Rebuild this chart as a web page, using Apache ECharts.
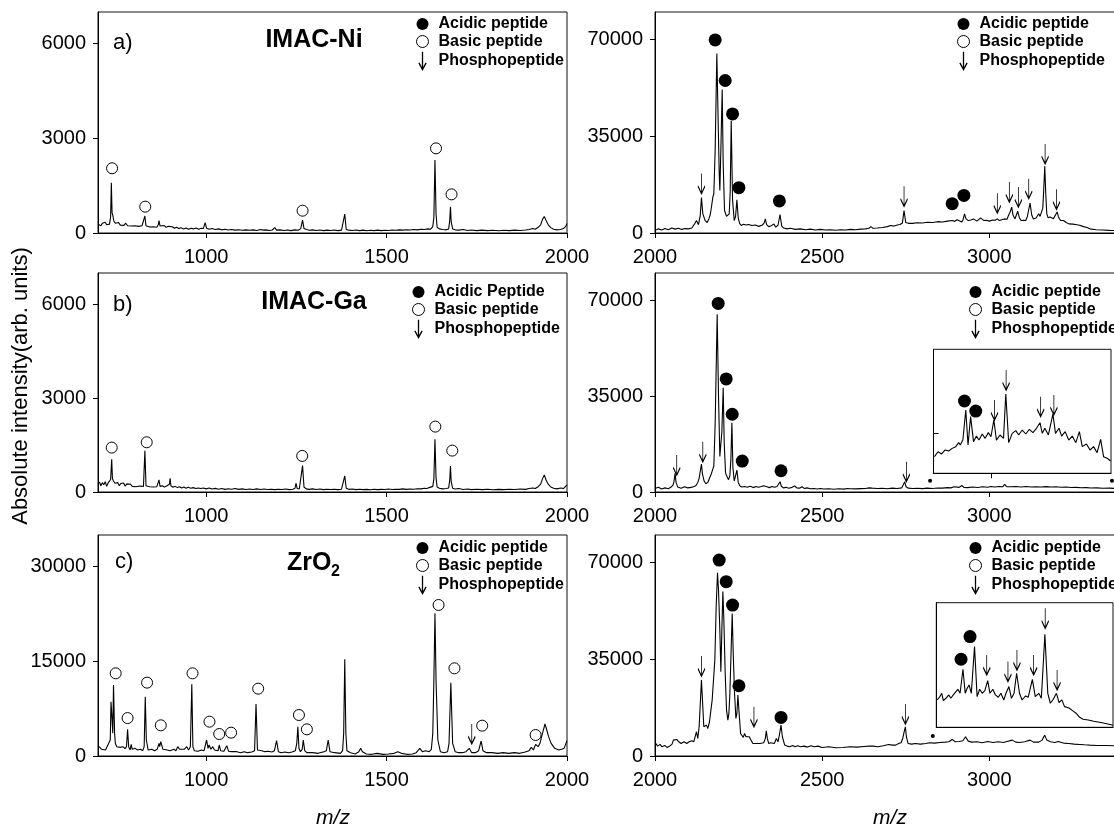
<!DOCTYPE html>
<html><head><meta charset="utf-8">
<script src="https://cdn.jsdelivr.net/npm/echarts@6/dist/echarts.min.js"></script>
<style>html,body{margin:0;padding:0;background:#fff}#c{width:1114px;height:828px}</style>
</head><body><div id="c"></div>
<script>
// ---------- tick labels ----------
const lowXTicks = [1000, 1500, 2000];
const highXTicks = [2000, 2500, 3000];
const lowYTicksAB = [0, 3000, 6000];
const lowYTicksC = [0, 15000, 30000];
const highYTicks = [0, 35000, 70000];
const insetXTicks = [3000];
const insetYTicks = [32];

// ---------- legend / title texts ----------
const legendNames = ['Acidic peptide', 'Basic peptide', 'Phosphopeptide'];
const legendNamesGaLow = ['Acidic Peptide', 'Basic peptide', 'Phosphopeptide'];
const panelTitles = ['IMAC-Ni', 'IMAC-Ga', 'ZrO'];
const panelLetters = ['a)', 'b)', 'c)'];
const yTitle = 'Absolute intensity(arb. units)';
const xTitle = 'm/z';

// ---------- spectra [m/z, intensity] ----------
const niLow = [[700,280],[704,330],[708,230],[712,310],[716,250],[720,340],[724,260],[728,300],[732,280],[735,520],[737,1590],[739,640],[741,560],[744,380],[748,310],[752,260],[757,330],[762,250],[767,300],[772,240],[777,310],[782,230],[787,290],[792,220],[797,280],[802,230],[807,270],[812,210],[817,260],[822,230],[827,250],[830,540],[833,230],[838,260],[843,190],[848,240],[853,200],[858,230],[863,180],[867,260],[869,390],[872,220],[877,200],[883,240],[889,180],[895,210],[900,160],[906,200],[912,150],[918,180],[924,140],[930,170],[937,130],[944,160],[951,120],[958,150],[965,130],[972,160],[979,120],[986,150],[992,140],[997,330],[1001,150],[1008,120],[1016,140],[1025,110],[1034,130],[1043,100],[1052,120],[1061,95],[1070,110],[1080,90],[1090,105],[1100,85],[1110,100],[1120,85],[1130,100],[1140,80],[1150,110],[1158,90],[1166,100],[1175,80],[1183,95],[1190,170],[1195,90],[1205,100],[1215,80],[1225,95],[1235,75],[1245,100],[1255,85],[1262,140],[1267,410],[1271,140],[1278,110],[1286,85],[1295,100],[1305,80],[1315,95],[1325,75],[1335,90],[1345,80],[1355,95],[1365,75],[1375,90],[1380,110],[1384,600],[1388,110],[1395,90],[1405,80],[1415,95],[1425,75],[1435,90],[1445,70],[1455,85],[1465,75],[1475,90],[1485,75],[1495,85],[1505,80],[1515,95],[1525,85],[1535,100],[1545,90],[1555,105],[1565,95],[1575,110],[1585,100],[1595,120],[1605,110],[1615,130],[1622,120],[1628,200],[1631,500],[1634,2310],[1637,600],[1640,180],[1646,130],[1655,110],[1665,100],[1672,130],[1675,400],[1677,830],[1679,350],[1683,130],[1690,100],[1700,90],[1712,110],[1725,80],[1735,95],[1750,75],[1765,90],[1780,75],[1795,85],[1810,70],[1825,85],[1840,75],[1855,90],[1870,80],[1885,95],[1895,110],[1905,140],[1912,120],[1920,180],[1927,260],[1932,430],[1937,520],[1942,400],[1948,260],[1955,170],[1963,120],[1972,100],[1982,110],[1990,140],[1996,200],[2000,300]];

const niHigh = [[2000,860],[2010,1500],[2020,1100],[2030,1600],[2040,1200],[2050,1800],[2060,1400],[2070,1700],[2080,1300],[2090,1600],[2100,1500],[2110,1800],[2118,3200],[2124,4500],[2130,3000],[2135,6000],[2139,12800],[2143,7000],[2150,4500],[2156,3800],[2161,5100],[2165,6500],[2169,9500],[2173,13000],[2176,14200],[2180,30000],[2185,65000],[2189,40000],[2192,22000],[2194,15400],[2197,30000],[2201,51900],[2204,25000],[2208,8150],[2214,6000],[2219,6500],[2222,6950],[2225,15000],[2228,40600],[2232,12000],[2237,4500],[2241,6000],[2245,12000],[2249,5500],[2253,3500],[2258,2700],[2265,3200],[2272,2900],[2280,3100],[2290,2700],[2300,2900],[2310,2400],[2320,2800],[2326,3500],[2330,5100],[2334,3000],[2340,2300],[2348,2600],[2356,3300],[2361,2100],[2368,2800],[2374,6700],[2379,2500],[2385,1800],[2395,1500],[2405,1700],[2420,1300],[2435,1500],[2450,1200],[2465,1400],[2480,1100],[2495,1300],[2510,1100],[2525,1200],[2540,1000],[2555,1200],[2570,1100],[2585,1300],[2600,1200],[2615,1400],[2630,1500],[2640,1700],[2646,2300],[2652,1700],[2665,1800],[2680,2000],[2695,2300],[2705,2700],[2715,2500],[2725,2900],[2733,3100],[2740,3600],[2745,8150],[2750,3800],[2758,3500],[2770,3500],[2785,3700],[2800,3600],[2815,3900],[2830,3800],[2845,4100],[2860,4000],[2875,4300],[2889,4500],[2897,4200],[2903,4800],[2908,5500],[2912,4300],[2918,4000],[2922,5000],[2926,6950],[2930,5200],[2937,4500],[2945,4700],[2953,5100],[2958,4400],[2963,4300],[2968,4900],[2974,5500],[2979,4800],[2984,4500],[2992,4600],[3000,4300],[3010,4700],[3018,4600],[3024,5100],[3030,4500],[3037,4800],[3045,5100],[3053,5000],[3058,6500],[3062,7500],[3067,9370],[3071,6500],[3077,5100],[3081,6500],[3085,7900],[3090,5500],[3095,4500],[3102,4600],[3109,4500],[3114,6000],[3118,8500],[3122,10800],[3127,6500],[3132,5100],[3140,5400],[3148,6950],[3152,6000],[3155,5300],[3160,9000],[3163,16000],[3166,24200],[3169,14000],[3172,7000],[3176,5500],[3182,5800],[3187,6300],[3192,5200],[3197,5800],[3203,7600],[3207,5800],[3213,4500],[3222,4500],[3230,3800],[3238,3300],[3250,3200],[3262,3000],[3270,2800],[3280,2400],[3292,2000],[3301,1500],[3320,1200],[3340,1100],[3360,950],[3380,900],[3400,850]];

const gaLow = [[700,250],[704,320],[708,200],[712,300],[716,230],[720,330],[724,180],[728,290],[732,240],[735,400],[738,1046],[740,420],[743,350],[747,280],[751,220],[755,300],[759,200],[763,270],[767,210],[771,290],[775,190],[780,260],[785,200],[790,250],[795,180],[800,240],[805,170],[810,230],[815,190],[820,210],[826,180],[830,1320],[833,200],[838,230],[843,170],[848,210],[853,160],[858,200],[863,170],[867,230],[869,386],[872,180],[878,200],[884,160],[890,190],[895,170],[898,250],[900,440],[902,200],[908,150],[914,180],[920,140],[926,170],[932,130],[938,160],[944,120],[950,150],[957,120],[964,140],[971,110],[978,130],[985,110],[992,130],[1000,100],[1008,125],[1016,95],[1025,115],[1034,90],[1043,110],[1052,85],[1061,105],[1070,90],[1080,110],[1090,85],[1100,100],[1110,80],[1120,95],[1130,80],[1140,100],[1150,80],[1160,95],[1170,80],[1180,90],[1190,75],[1200,90],[1210,80],[1220,95],[1230,75],[1240,90],[1246,120],[1249,280],[1252,110],[1258,100],[1262,150],[1267,844],[1271,160],[1277,100],[1285,85],[1295,100],[1305,80],[1315,95],[1325,75],[1335,90],[1345,80],[1355,90],[1365,75],[1375,90],[1380,120],[1384,514],[1388,120],[1395,85],[1405,95],[1415,75],[1425,90],[1435,75],[1445,85],[1455,70],[1465,90],[1475,75],[1485,85],[1495,80],[1505,95],[1515,80],[1525,90],[1535,85],[1545,100],[1555,85],[1565,95],[1575,90],[1585,105],[1595,100],[1605,120],[1612,110],[1618,140],[1622,120],[1628,180],[1631,420],[1634,1685],[1637,450],[1640,160],[1646,120],[1655,100],[1665,110],[1672,130],[1675,380],[1677,833],[1679,330],[1683,120],[1690,95],[1700,110],[1712,80],[1725,95],[1735,75],[1750,90],[1765,75],[1780,90],[1795,70],[1810,85],[1825,75],[1840,90],[1855,80],[1870,95],[1885,85],[1895,110],[1905,130],[1912,110],[1920,170],[1927,250],[1932,420],[1937,546],[1942,380],[1948,250],[1955,160],[1963,120],[1972,100],[1982,130],[1990,110],[1996,180],[2000,226]];

const gaHigh = [[2000,1300],[2010,1700],[2020,1100],[2030,1500],[2040,1200],[2048,1800],[2054,2500],[2057,4000],[2060,6800],[2063,3500],[2068,1800],[2078,1400],[2088,1900],[2098,1500],[2108,1700],[2115,1900],[2122,2300],[2128,3500],[2132,5000],[2136,8000],[2139,10200],[2142,6500],[2147,4000],[2152,3000],[2158,3500],[2163,5000],[2168,6500],[2172,8000],[2176,9500],[2180,25000],[2186,64900],[2190,35000],[2194,13000],[2196,12900],[2200,22000],[2204,38100],[2207,18000],[2211,7000],[2216,5500],[2220,4500],[2224,6000],[2227,12000],[2230,25300],[2233,9000],[2237,4000],[2241,4500],[2245,8000],[2249,3500],[2254,2200],[2260,1800],[2268,2000],[2276,1700],[2285,2100],[2294,1600],[2302,2000],[2310,1700],[2318,2000],[2325,2300],[2330,2900],[2335,1900],[2342,1600],[2350,2000],[2358,1700],[2365,2000],[2370,2500],[2374,3750],[2378,2100],[2384,1500],[2392,1700],[2400,1400],[2410,1700],[2418,2200],[2424,1500],[2432,1400],[2440,1900],[2446,1300],[2455,1500],[2465,1200],[2475,1300],[2485,1100],[2495,1300],[2505,1100],[2520,1200],[2535,1000],[2550,1200],[2565,1050],[2575,1300],[2580,1700],[2585,1200],[2600,1150],[2615,1250],[2630,1300],[2640,1500],[2645,2000],[2650,1400],[2665,1300],[2680,1350],[2695,1200],[2710,1400],[2725,1300],[2738,1500],[2743,2200],[2747,3750],[2751,1900],[2758,1400],[2770,1300],[2785,1350],[2800,1250],[2815,1400],[2830,1300],[2845,1450],[2860,1400],[2875,1600],[2885,1500],[2895,1900],[2900,1500],[2910,1700],[2918,2400],[2924,1700],[2935,1600],[2950,1800],[2965,1650],[2980,1900],[2995,1750],[3005,2000],[3015,1800],[3030,2000],[3040,1900],[3046,2800],[3052,1950],[3065,1900],[3080,2000],[3095,1850],[3110,2000],[3125,1800],[3140,1900],[3155,1800],[3170,1950],[3185,1800],[3200,1900],[3215,1750],[3230,1800],[3245,1650],[3260,1700],[3275,1550],[3290,1600],[3305,1450],[3320,1500],[3340,1350],[3360,1400],[3380,1300],[3400,1250]];

const zrLow = [[703,1478],[710,1060],[715,1214],[721,950],[726,1580],[731,1370],[734,2530],[736,8606],[738,6758],[741,3590],[743,11246],[746,3590],[748,2006],[752,1478],[757,1742],[763,1370],[769,1478],[775,1160],[779,1478],[782,4224],[785,1478],[789,950],[792,1848],[795,1060],[803,1214],[810,950],[818,1060],[824,844],[828,1478],[831,9398],[834,2534],[839,950],[849,1060],[857,844],[864,1060],[869,2006],[871,1478],[874,2270],[880,1060],[885,844],[892,950],[900,844],[910,1060],[916,844],[921,1478],[926,1060],[931,844],[939,1060],[946,1478],[951,950],[956,1478],[960,11352],[963,1478],[967,844],[977,740],[987,950],[994,844],[1001,2534],[1005,1214],[1008,1742],[1013,1060],[1018,1478],[1023,950],[1028,1214],[1033,844],[1036,1742],[1040,844],[1049,740],[1057,1636],[1062,740],[1069,686],[1085,686],[1095,528],[1105,686],[1115,528],[1126,634],[1134,844],[1138,8236],[1142,950],[1146,686],[1154,844],[1159,1160],[1163,686],[1172,740],[1182,634],[1189,844],[1195,2430],[1200,686],[1208,528],[1218,634],[1228,528],[1238,634],[1247,844],[1251,2006],[1254,4646],[1257,1214],[1261,686],[1266,1060],[1269,2534],[1273,844],[1279,528],[1295,528],[1310,422],[1326,686],[1333,844],[1338,2534],[1343,686],[1356,528],[1372,422],[1378,844],[1381,3590],[1384,15312],[1387,3590],[1390,844],[1400,528],[1413,316],[1423,686],[1428,1214],[1433,686],[1444,316],[1459,264],[1474,422],[1490,264],[1505,316],[1521,422],[1531,686],[1541,422],[1556,264],[1572,316],[1582,528],[1592,1214],[1599,686],[1608,844],[1618,686],[1624,1060],[1628,3590],[1631,12000],[1634,22600],[1637,12000],[1642,2534],[1649,686],[1659,528],[1669,686],[1673,2006],[1678,11616],[1683,2006],[1690,686],[1700,528],[1710,528],[1720,686],[1729,1214],[1736,528],[1746,528],[1755,844],[1762,2376],[1767,844],[1777,528],[1792,528],[1808,422],[1823,528],[1838,422],[1854,528],[1869,422],[1884,634],[1895,844],[1901,1370],[1907,950],[1913,1848],[1920,1478],[1925,2006],[1932,3590],[1939,5069],[1944,4118],[1949,3062],[1956,2006],[1966,1214],[1977,950],[1985,1060],[1992,1214],[1997,2006],[2000,2430]];

const zrHigh = [[2002,4550],[2008,3580],[2015,4190],[2021,3340],[2029,3820],[2036,3100],[2044,3580],[2051,4300],[2055,5750],[2060,6360],[2065,6000],[2071,5150],[2078,4550],[2087,5150],[2095,4550],[2102,5150],[2110,5500],[2116,5150],[2120,6960],[2124,8780],[2128,6360],[2132,10580],[2136,20240],[2139,27480],[2143,17800],[2146,10580],[2150,9980],[2154,11190],[2158,9980],[2163,12400],[2166,15410],[2171,20240],[2175,27480],[2179,34700],[2183,54030],[2187,66350],[2190,60070],[2194,45600],[2197,30500],[2200,45600],[2203,59500],[2206,49200],[2210,29900],[2214,16620],[2218,13000],[2221,15410],[2224,22650],[2228,39550],[2231,51620],[2234,37140],[2238,22650],[2242,13600],[2245,15410],[2248,22050],[2251,16620],[2256,8170],[2260,7570],[2264,6720],[2268,8170],[2272,6960],[2277,6360],[2282,6960],[2287,5750],[2293,4550],[2298,5150],[2303,4550],[2308,3940],[2314,4550],[2319,5150],[2325,4790],[2330,6360],[2333,9130],[2336,6360],[2340,4550],[2346,4790],[2351,5150],[2357,4550],[2363,6360],[2368,5150],[2372,7560],[2377,11190],[2381,6960],[2388,3940],[2395,3580],[2403,3340],[2412,3820],[2419,3340],[2427,3700],[2435,3340],[2446,3580],[2456,3220],[2467,3700],[2477,3340],[2488,3580],[2499,3100],[2520,3340],[2541,2980],[2562,3100],[2583,3340],[2604,3220],[2625,3460],[2641,3580],[2646,4190],[2652,3580],[2667,3340],[2683,3700],[2699,4190],[2704,4790],[2710,3940],[2720,3940],[2729,4550],[2736,4790],[2741,6360],[2746,9130],[2749,10580],[2752,6960],[2757,4550],[2768,4300],[2778,4550],[2794,4300],[2810,4550],[2821,4790],[2837,4670],[2852,4910],[2868,5030],[2879,5150],[2889,6000],[2898,5150],[2910,5270],[2921,5500],[2929,6960],[2937,5390],[2947,5030],[2963,5150],[2979,4790],[2995,5270],[3011,4910],[3027,5150],[3042,4910],[3053,5270],[3069,5750],[3079,5030],[3090,4910],[3106,5150],[3122,5750],[3132,5030],[3148,5030],[3158,5750],[3166,7560],[3172,5750],[3183,5150],[3196,4910],[3206,5270],[3222,4670],[3238,4550],[3254,4300],[3270,4190],[3285,4060],[3301,3940],[3322,3820],[3349,3820],[3373,3700],[3400,3650]];

// insets (zoomed region, relative intensity)
const gaInset = [[2823,13.4],[2834,17.4],[2845,15.6],[2856,18.8],[2867,18],[2878,20.1],[2889,21.5],[2898,24.7],[2903,22.8],[2911,26.8],[2920,51],[2927,22.8],[2935,45.7],[2944,25.5],[2953,30],[2961,26.8],[2971,31.7],[2980,28.2],[2990,32.8],[2998,29.5],[3007,43],[3015,26.8],[3026,30.9],[3037,28.2],[3044,63.9],[3053,24.7],[3064,32.2],[3075,34.4],[3084,30.9],[3095,34.9],[3106,31.7],[3117,35.5],[3128,32.8],[3139,36.3],[3150,40.8],[3157,32.2],[3165,36.3],[3176,30.9],[3190,47.8],[3198,32.2],[3209,36.3],[3217,30],[3228,33.6],[3239,26.8],[3250,30],[3261,24.7],[3272,33.6],[3281,21.5],[3294,23.6],[3305,18.8],[3316,21.5],[3327,16.6],[3338,27.4],[3347,13.4],[3358,12.1],[3369,9.9]];

const zrInset = [[2823,21.9],[2831,24.6],[2837,27.3],[2842,21.4],[2850,23.3],[2859,26],[2865,23.3],[2873,26],[2881,28.6],[2887,30.5],[2894,27.3],[2903,46.6],[2910,27.3],[2916,31.3],[2922,34],[2929,27.3],[2939,64.8],[2947,24.6],[2955,30.5],[2963,27.3],[2971,29.4],[2980,37.5],[2987,27.3],[2996,30.5],[3004,26],[3013,24.1],[3021,27.3],[3030,21.9],[3037,27.3],[3046,32.7],[3054,23.3],[3062,27.3],[3070,43.4],[3079,27.3],[3087,21.9],[3098,25.2],[3106,24.1],[3119,38.5],[3128,24.6],[3139,27.3],[3147,23.3],[3158,74.6],[3167,27.3],[3175,19.3],[3184,22.5],[3194,27.3],[3202,19.8],[3211,22],[3219,16.6],[3233,15.5],[3244,13.4],[3255,11.3],[3266,8],[3277,6.4],[3293,5.9],[3310,4.8],[3332,3.8],[3354,2.7],[3370,1.6]];

// ---------- peak markers [m/z, marker height] ----------
const niLowBasic = [[739,2050],[831,834],[1267,707],[1637,2681],[1680,1224]];
const niHighAcidic = [[2180,69900],[2210,55200],[2232,43100],[2251,16400],[2372,11600],[2889,10600],[2924,13600]];
const niHighPhospho = [[2139,17900],[2745,13300],[3024,10800],[3060,14800],[3087,13000],[3118,16050],[3167,28600],[3201,12200]];
const gaLowBasic = [[738,1419],[835,1589],[1266,1153],[1635,2090],[1682,1323]];
const gaHighAcidic = [[2189,68900],[2213,41300],[2231,28400],[2261,11300],[2377,7770]];
const gaHighPhospho = [[2065,9850],[2143,14700],[2752,7400]];
const gaHighRange = [[2823,4130],[3367,4130]];
const gaInsetAcidic = [[2916,58.3],[2951,50.2]];
const gaInsetPhospho = [[3009,51],[3045,75.2],[3152,53.7],[3193,55.1]];
const zrLowBasic = [[749,13094],[782,6008],[836,11616],[874,4858],[962,13094],[1009,5438],[1036,3484],[1069,3695],[1144,10665],[1257,6494],[1279,4224],[1644,23918],[1688,13886],[1765,4805],[1913,3326]];
const zrLowPhospho = [[1736,3484]];
const zrHighAcidic = [[2192,70930],[2213,63090],[2232,54640],[2251,25430],[2377,13960]];
const zrHighPhospho = [[2139,32550],[2296,14200],[2749,15170]];
const zrHighRange = [[2831,7200]];
const zrInsetAcidic = [[2897,54.6],[2925,72.8]];
const zrInsetPhospho = [[2977,50],[3043,44.7],[3071,54],[3123,50],[3159,87.5],[3196,38]];

// ---------- build ----------
const FONT = "'Liberation Sans', Arial, Helvetica, sans-serif";
const ARROW = 'path://M5,0L5,20M1,12.5L5,20L9,12.5';

const grids = [
  {left: 98, top: 12, width: 469, height: 221},
  {left: 655, top: 12, width: 468, height: 221},
  {left: 98, top: 273, width: 469, height: 219},
  {left: 655, top: 273, width: 468, height: 219},
  {left: 98, top: 535, width: 469, height: 221},
  {left: 655, top: 535, width: 468, height: 221},
  {left: 933.5, top: 349.3, width: 177.5, height: 124},
  {left: 936.3, top: 602.7, width: 176.7, height: 124.6}
].map(g => Object.assign({show: true, borderColor: '#111', borderWidth: 1, backgroundColor: 'transparent', containLabel: false, outerBoundsMode: 'none'}, g));

const xRanges = [[700,2000,lowXTicks],[2000,3400,highXTicks],[700,2000,lowXTicks],[2000,3400,highXTicks],[700,2000,lowXTicks],[2000,3400,highXTicks]];
const yRanges = [[7000,lowYTicksAB],[80000,highYTicks],[7000,lowYTicksAB],[80000,highYTicks],[35000,lowYTicksC],[80000,highYTicks]];

const plain = v => String(Math.round(v));
const axisText = {color: '#000', fontSize: 20, fontFamily: FONT, formatter: plain};
const xAxis = xRanges.map((r, i) => ({
  gridIndex: i, type: 'value', min: r[0], max: r[1],
  axisLine: {show: true, onZero: false, lineStyle: {color: '#000', width: 1}},
  axisTick: {show: true, inside: false, length: 5, customValues: r[2], lineStyle: {color: '#000'}},
  axisLabel: Object.assign({show: true, margin: 14, customValues: r[2]}, axisText),
  splitLine: {show: false}
}));
const yAxis = yRanges.map((r, i) => ({
  gridIndex: i, type: 'value', min: 0, max: r[0],
  axisLine: {show: true, lineStyle: {color: '#000', width: 1}},
  axisTick: {show: true, inside: false, length: 5, customValues: r[1], lineStyle: {color: '#000'}},
  axisLabel: Object.assign({show: true, margin: 12, customValues: r[1]}, axisText),
  splitLine: {show: false}
}));
[6, 7].forEach((gi, k) => {
  xAxis.push({gridIndex: gi, type: 'value', min: 2820, max: 3370, position: 'top',
    axisLine: {show: true, lineStyle: {color: '#000'}},
    axisTick: {show: k === 0, inside: true, length: 5, customValues: insetXTicks, lineStyle: {color: '#000'}},
    axisLabel: {show: false}, splitLine: {show: false}});
  yAxis.push({gridIndex: gi, type: 'value', min: 0, max: 100,
    axisLine: {show: true, lineStyle: {color: '#000'}},
    axisTick: {show: k === 0, inside: true, length: 5, customValues: insetYTicks, lineStyle: {color: '#000'}},
    axisLabel: {show: false}, splitLine: {show: false}});
});

function spec(gi, data) {
  return {type: 'line', xAxisIndex: gi, yAxisIndex: gi, data: data, symbol: 'none', showSymbol: false,
    lineStyle: {color: '#000', width: 1.1}, silent: true, z: 2, clip: true};
}
function acidic(gi, data, name) {
  return {type: 'scatter', name: name || 'Acidic peptide', xAxisIndex: gi, yAxisIndex: gi, data: data,
    symbol: 'circle', symbolSize: 13, itemStyle: {color: '#000', opacity: 1}, emphasis: {disabled: true}, z: 4};
}
function basic(gi, data) {
  return {type: 'scatter', name: 'Basic peptide', xAxisIndex: gi, yAxisIndex: gi, data: data,
    symbol: 'circle', symbolSize: 11, itemStyle: {color: '#fff', borderColor: '#000', borderWidth: 1, opacity: 1}, emphasis: {disabled: true}, z: 4};
}
function phospho(gi, data) {
  return {type: 'scatter', name: 'Phosphopeptide', xAxisIndex: gi, yAxisIndex: gi, data: data,
    symbol: ARROW, symbolSize: [7, 20], itemStyle: {color: 'rgba(0,0,0,0)', borderColor: '#000', borderWidth: 1.3, opacity: 1}, emphasis: {disabled: true}, z: 4};
}
function dots(gi, data) {
  return {type: 'scatter', name: 'range', xAxisIndex: gi, yAxisIndex: gi, data: data,
    symbol: 'circle', symbolSize: 4, itemStyle: {color: '#000', opacity: 1}, emphasis: {disabled: true}, z: 4};
}

const series = [
  spec(0, niLow), acidic(0, []), basic(0, niLowBasic), phospho(0, []),
  spec(1, niHigh), acidic(1, niHighAcidic), basic(1, []), phospho(1, niHighPhospho),
  spec(2, gaLow), acidic(2, [], 'Acidic Peptide'), basic(2, gaLowBasic), phospho(2, []),
  spec(3, gaHigh), acidic(3, gaHighAcidic), basic(3, []), phospho(3, gaHighPhospho), dots(3, gaHighRange),
  spec(4, zrLow), acidic(4, []), basic(4, zrLowBasic), phospho(4, zrLowPhospho),
  spec(5, zrHigh), acidic(5, zrHighAcidic), basic(5, []), phospho(5, zrHighPhospho), dots(5, zrHighRange),
  spec(6, gaInset), acidic(6, gaInsetAcidic), phospho(6, gaInsetPhospho),
  spec(7, zrInset), acidic(7, zrInsetAcidic), phospho(7, zrInsetPhospho)
];

const legendStyles = [
  {itemStyle: {color: '#000', borderWidth: 0, opacity: 1}},
  {itemStyle: {color: '#fff', borderColor: '#000', borderWidth: 1, opacity: 1}},
  {icon: ARROW, itemStyle: {color: 'rgba(0,0,0,0)', borderColor: '#000', borderWidth: 1.3, opacity: 1}}
];
function legend(left, top, names) {
  return {show: true, orient: 'vertical', left: left, top: top, padding: 0, itemGap: 1.5,
    itemWidth: 12, itemHeight: 18, selectedMode: false,
    data: names.map((n, i) => Object.assign({name: n}, legendStyles[i])),
    textStyle: {fontSize: 16, fontWeight: 'bold', color: '#000', fontFamily: FONT, padding: [0, 0, 0, 5]}};
}
const legends = [
  legend(416, 16, legendNames), legend(957, 16, legendNames),
  legend(412, 284, legendNamesGaLow), legend(969, 284, legendNames),
  legend(416, 540, legendNames), legend(969, 540, legendNames)
];

function txt(x, y, text, font, align, extra) {
  return Object.assign({type: 'text', x: x, y: y, silent: true,
    style: {text: text, font: font, fill: '#000', align: align || 'left', textAlign: align || 'left',
      verticalAlign: 'middle', textVerticalAlign: 'middle'}}, extra || {});
}
const graphics = [
  txt(314, 40, panelTitles[0], "bold 25px " + FONT, 'center'),
  txt(314, 302, panelTitles[1], "bold 25px " + FONT, 'center'),
  txt(287, 563, panelTitles[2], "bold 25px " + FONT, 'left'),
  txt(331, 572, '2', "bold 16px " + FONT, 'left'),
  txt(113, 43, panelLetters[0], "22px " + FONT, 'left'),
  txt(113, 305, panelLetters[1], "22px " + FONT, 'left'),
  txt(115, 562, panelLetters[2], "22px " + FONT, 'left'),
  txt(333, 818, xTitle, "italic 21px " + FONT, 'center'),
  txt(890, 818, xTitle, "italic 21px " + FONT, 'center'),
  txt(21, 386, yTitle, "22px " + FONT, 'center', {rotation: Math.PI / 2})
];

const chart = echarts.init(document.getElementById('c'), null, {renderer: 'canvas', width: 1114, height: 828});
chart.setOption({
  animation: false,
  backgroundColor: '#fff',
  grid: grids,
  xAxis: xAxis,
  yAxis: yAxis,
  legend: legends,
  series: series,
  graphic: graphics
});
</script></body></html>
